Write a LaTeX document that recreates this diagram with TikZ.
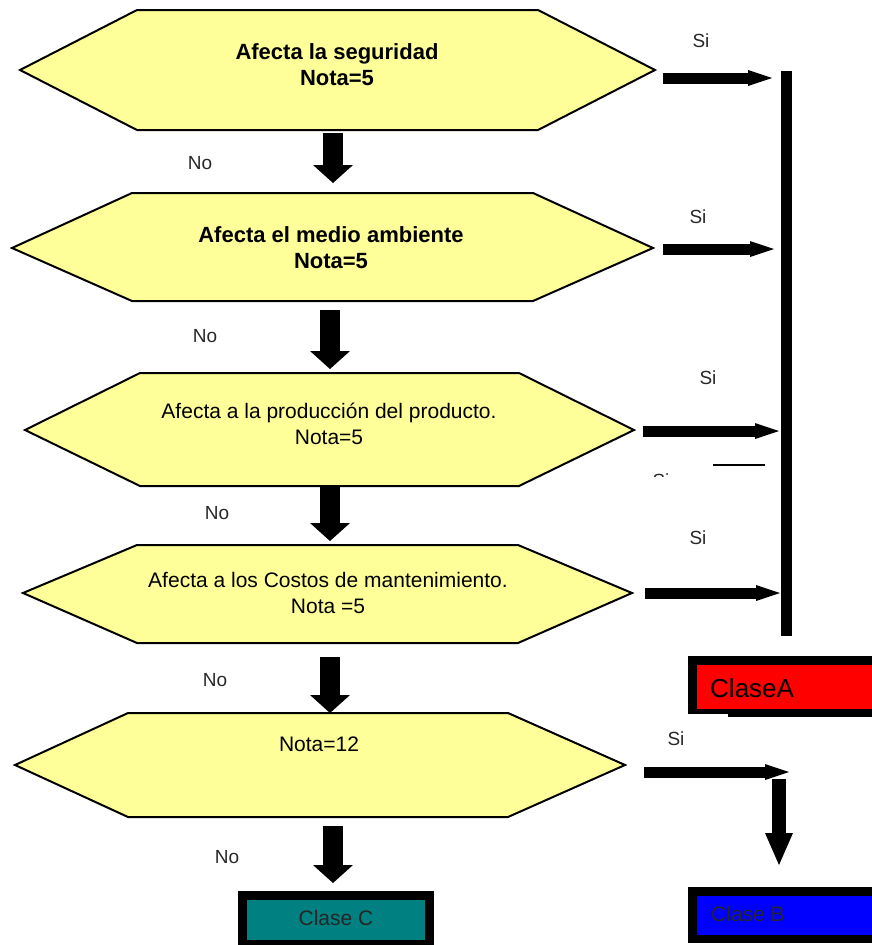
\documentclass[tikz,border=0pt]{standalone}
\usepackage{fontspec}
\setmainfont{Liberation Sans}
\usetikzlibrary{arrows.meta}
\definecolor{hexfill}{RGB}{255,255,153}
\definecolor{claseAfill}{RGB}{255,0,0}
\definecolor{claseBfill}{RGB}{0,0,255}
\definecolor{claseCfill}{RGB}{0,128,128}
\definecolor{lblgray}{RGB}{40,40,40}
\tikzset{
  hexa/.style={draw=black, line width=2pt, fill=hexfill, line join=miter},
  qbold/.style={font=\fontsize{22}{26}\selectfont\bfseries, align=center, inner sep=0pt},
  qtext/.style={font=\fontsize{21}{26}\selectfont, align=center, inner sep=0pt},
  lbl/.style={font=\fontsize{19}{22}\selectfont, inner sep=0pt, text=lblgray},
  boxtext/.style={inner sep=0pt, text=black},
  downflow/.style={draw=black, line width=20pt, -{Triangle[length=18pt,width=40pt,line width=0pt]}},
  siflow/.style={draw=black, line width=11pt, -{Triangle[length=24pt,width=16pt,line width=0pt]}},
  bflow/.style={draw=black, line width=14pt, -{Triangle[length=32pt,width=28pt,line width=0pt]}},
  bar/.style={draw=black, line width=11pt},
}
\begin{document}
\begin{tikzpicture}[x=1pt, y=-1pt]
  \useasboundingbox (0,0) rectangle (871,945);

  % decision hexagons
  \draw[hexa] (20,70) -- (137,10) -- (538,10) -- (655,70) -- (538,130) -- (137,130) -- cycle;
  \draw[hexa] (12,248) -- (132,193) -- (533,193) -- (653,248) -- (533,301) -- (132,301) -- cycle;
  \draw[hexa] (25,430) -- (140,373) -- (519,373) -- (634,430) -- (519,486) -- (140,486) -- cycle;
  \draw[hexa] (23,593) -- (137,545) -- (518,545) -- (632,593) -- (518,643) -- (137,643) -- cycle;
  \draw[hexa] (15,765) -- (128,713) -- (508,713) -- (625,765) -- (508,817) -- (128,817) -- cycle;

  % decision texts
  \node[qbold] (q1) at (337,65) {Afecta la seguridad\\Nota=5};
  \node[qbold] (q2) at (331,248) {Afecta el medio ambiente\\Nota=5};
  \node[qtext] (q3) at (329,424) {Afecta a la producción del producto.\\Nota=5};
  \node[qtext] (q4) at (328,593) {Afecta a los Costos de mantenimiento.\\Nota =5};
  \node[qtext] (q5) at (319,744) {Nota=12};

  % "No" path: downward block arrows
  \coordinate (d1s) at (333,133); \coordinate (d1e) at (333,183);
  \coordinate (d2s) at (330,310); \coordinate (d2e) at (330,369);
  \coordinate (d3s) at (330,487); \coordinate (d3e) at (330,541);
  \coordinate (d4s) at (330,657); \coordinate (d4e) at (330,713);
  \coordinate (d5s) at (333,826); \coordinate (d5e) at (333,883);
  \draw[downflow] (d1s) -- (d1e);
  \draw[downflow] (d2s) -- (d2e);
  \draw[downflow] (d3s) -- (d3e);
  \draw[downflow] (d4s) -- (d4e);
  \draw[downflow] (d5s) -- (d5e);

  \node[lbl] (no1) at (200,163) {No};
  \node[lbl] (no2) at (205,336) {No};
  \node[lbl] (no3) at (217,513) {No};
  \node[lbl] (no4) at (215,680) {No};
  \node[lbl] (no5) at (227,857) {No};

  % "Si" path: arrows to the collecting bar
  \coordinate (barTop) at (786,71);
  \coordinate (barBot) at (786,636);
  \draw[bar] (barTop) -- (barBot);

  \coordinate (s1s) at (663,78);  \coordinate (s1e) at (772,78);
  \coordinate (s2s) at (663,249); \coordinate (s2e) at (774,249);
  \coordinate (s3s) at (643,431); \coordinate (s3e) at (779,431);
  \coordinate (s4s) at (645,593); \coordinate (s4e) at (780,593);
  \coordinate (s5s) at (644,772); \coordinate (s5e) at (789,772);
  \draw[siflow] (s1s) -- (s1e);
  \draw[siflow] (s2s) -- (s2e);
  \draw[siflow] (s3s) -- (s3e);
  \draw[siflow] (s4s) -- (s4e);
  \draw[siflow] (s5s) -- (s5e);

  \node[lbl] (si1) at (701,41) {Si};
  \node[lbl] (si2) at (698,217) {Si};
  \node[lbl] (si3) at (708,378) {Si};
  \node[lbl] (si4) at (698,538) {Si};
  \node[lbl] (si5) at (676,739) {Si};

  % stray fragments between the third and fourth branch
  \begin{scope}
    \clip (640,460) rectangle (690,476);
    \node[lbl] (si3b) at (661,481) {Si};
  \end{scope}
  \coordinate (stubL) at (713,465);
  \coordinate (stubR) at (765,465);
  \draw[line width=2pt] (stubL) -- (stubR);

  % branch to Clase B
  \coordinate (bs) at (779,779); \coordinate (be) at (779,865);
  \draw[bflow] (bs) -- (be);

  % result boxes
  \fill[black] (728,661) rectangle (880,717);
  \fill[black] (688,656) rectangle (880,714);
  \fill[claseAfill] (697,665) rectangle (880,709);
  \node[boxtext, anchor=west, font=\fontsize{26}{30}\selectfont] (ca) at (710,688) {ClaseA};

  \fill[black] (688,887) rectangle (880,943);
  \fill[claseBfill] (697,896) rectangle (880,935);
  \node[boxtext, anchor=west, font=\fontsize{21}{25}\selectfont, text=black!85] (cb) at (711,914) {Clase B};

  \fill[black] (238,891) rectangle (434,950);
  \fill[claseCfill] (247,900) rectangle (425,940);
  \node[boxtext, font=\fontsize{21}{25}\selectfont, text=black!85] (cc) at (336,918) {Clase C};
\end{tikzpicture}
\end{document}
